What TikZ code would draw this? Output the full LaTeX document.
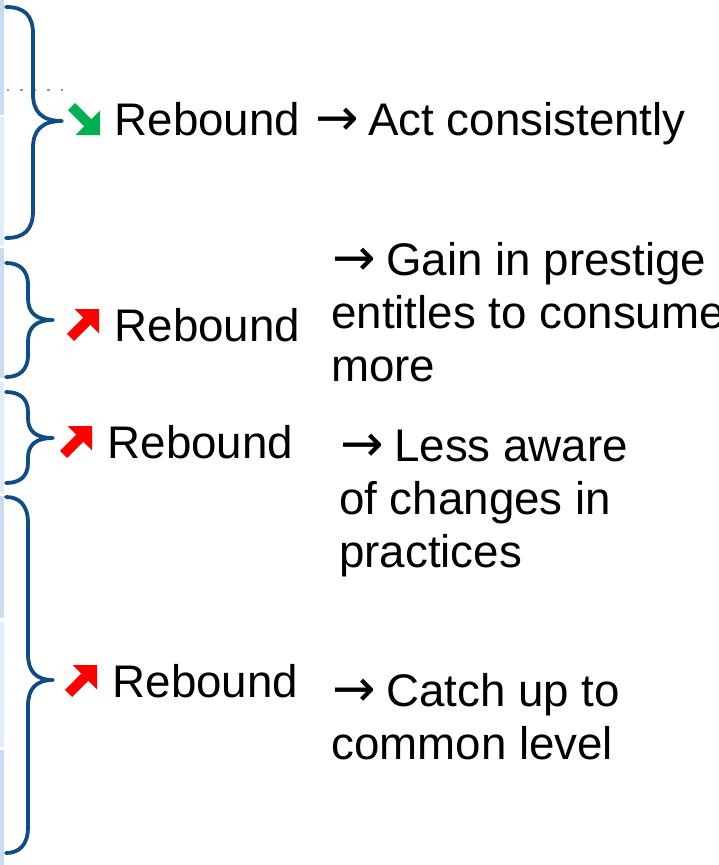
\documentclass[tikz,border=0pt]{standalone}
\usepackage{fontspec}
\setmainfont{Liberation Sans}
\newfontfamily\arrowfont{DejaVu Sans}
\definecolor{bracecol}{RGB}{16,76,136}
\definecolor{stripdark}{RGB}{200,219,240}
\definecolor{striplight}{RGB}{226,236,247}
\definecolor{upred}{RGB}{255,0,0}
\definecolor{downgreen}{RGB}{0,176,80}
\definecolor{dotgray}{RGB}{150,150,150}
% arrow glyph in a box 38pt wide
\newcommand{\rarr}{\hbox to 38pt{\hss{\arrowfont\fontsize{52}{53}\selectfont →}\hss}}
% brace: top y, tip y, bottom y, vertical x, tip x, curl size
\newcommand{\curlybrace}[6]{%
  \draw[bracestyle] (6,#1) .. controls ({#4-9},#1) and (#4,{#1+#6*0.3}) .. (#4,{#1+#6})
    -- (#4,{#2-#6}) .. controls (#4,{#2-#6*0.35}) and ({#4+(#5-#4)*0.3},#2) .. (#5,#2)
    .. controls ({#4+(#5-#4)*0.3},#2) and (#4,{#2+#6*0.35}) .. (#4,{#2+#6})
    -- (#4,{#3-#6}) .. controls (#4,{#3-#6*0.3}) and ({#4-9},#3) .. (6,#3);}
\newcommand{\uparrowicon}[2]{%
  \begin{scope}[shift={(#1,#2)},x=32pt,y=-32pt]
    \fill[upred] (1,0) -- (0.24,0) -- (0.509,0.269) -- (0,0.774) -- (0.226,1) -- (0.731,0.491) -- (1,0.76) -- cycle;
  \end{scope}}
\newcommand{\downarrowicon}[2]{%
  \begin{scope}[shift={(#1,#2)},x=32pt,y=-32pt]
    \fill[downgreen] (1,1) -- (0.24,1) -- (0.509,0.731) -- (0,0.226) -- (0.226,0) -- (0.731,0.509) -- (1,0.24) -- cycle;
  \end{scope}}
\tikzset{
  bracestyle/.style={draw=bracecol, line width=3.8pt, line cap=round, line join=round},
  lbl/.style={inner sep=0pt, anchor=base west, font=\fontsize{45.7}{53}\selectfont, align=left, text=black}
}
\begin{document}
\begin{tikzpicture}[x=1pt,y=-1pt]
\useasboundingbox (0,0) rectangle (718,865);
\clip (0,0) rectangle (718,865);
\fill[white] (0,0) rectangle (718,865);
% left strip
\fill[stripdark] (0,0) rectangle (4,115);
\fill[striplight] (0,117) rectangle (4,245);
\fill[stripdark] (0,248) rectangle (4,378);
\fill[striplight] (0,382) rectangle (4,493);
\fill[stripdark] (0,496) rectangle (4,618);
\fill[striplight] (0,622) rectangle (4,747);
\fill[stripdark] (0,750) rectangle (4,865);
% dotted line
\draw[dotgray, line width=2.4pt, dash pattern=on 2.4pt off 11pt] (7,90) -- (64,90);
% braces
\curlybrace{7}{121}{238}{33}{62}{27}
\curlybrace{263}{320}{377}{28}{53}{22}
\curlybrace{392}{438}{483}{28}{53}{20}
\curlybrace{497}{680}{853}{28}{53}{26}
% arrow icons
\downarrowicon{68}{103}
\uparrowicon{67}{309}
\uparrowicon{60}{426}
\uparrowicon{65}{665}
% texts
\node[lbl] (r1) at (114.4,135) {Rebound\hspace{18pt}\rarr\hspace{12pt}Act consistently};
\node[lbl] (r2) at (114.4,341) {Rebound};
\node[lbl] (t2) at (331,381) {\hspace*{4pt}\rarr\hspace{13pt}Gain in prestige\\entitles to consume\\more};
\node[lbl] (r3) at (107.4,458) {Rebound};
\node[lbl] (t3) at (339,567) {\hspace*{4pt}\rarr\hspace{13pt}Less aware\\of changes in\\practices};
\node[lbl] (r4) at (112.4,697) {Rebound};
\node[lbl] (t4) at (331,759) {\hspace*{4pt}\rarr\hspace{13pt}Catch up to\\common level};
\end{tikzpicture}
\end{document}
